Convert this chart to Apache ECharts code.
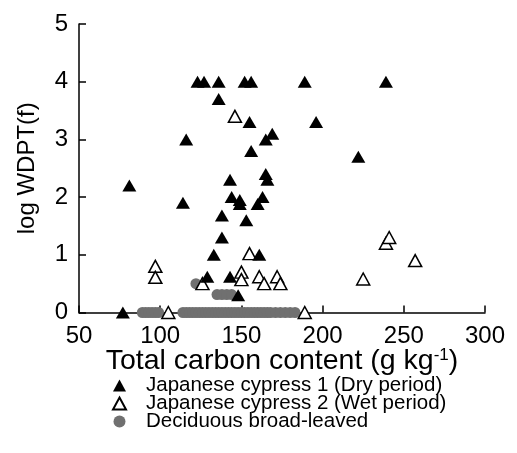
<!DOCTYPE html>
<html>
<head>
<meta charset="utf-8">
<script src="https://cdn.jsdelivr.net/npm/echarts@6/dist/echarts.min.js"></script>
<style>html,body{margin:0;padding:0;background:#fff;}#c{width:517px;height:453px;}</style>
</head>
<body>
<div id="c"></div>
<script>
const xTicks = [50, 100, 150, 200, 250, 300];
const yTicks = [0, 1, 2, 3, 4, 5];
const seriesNames = ['Japanese cypress 1 (Dry period)', 'Japanese cypress 2 (Wet period)', 'Deciduous broad-leaved'];
const dryPeriod = [[77,0],[81,2.2],[114,1.9],[116,3.0],[123,4],[127,4],[136,4],[136,3.7],[152,4],[156,4],[189,4],[239,4],
  [155,3.3],[196,3.3],[169,3.1],[165,3.0],[156,2.8],[222,2.7],[143,2.3],[165,2.4],[166,2.3],[144,2.0],[149,1.95],[163,2.0],
  [149,1.88],[160,1.88],[138,1.68],[153,1.6],[138,1.3],[133,1.0],[161,1.0],[129,0.62],[143,0.62],[148,0.3]];
const wetPeriod = [[97,0.8],[97,0.61],[105,0],[126,0.5],[146,3.4],[150,0.7],[150,0.57],[155,1.02],[161,0.62],[164,0.5],
  [172,0.62],[174,0.5],[189,0],[225,0.58],[239,1.2],[241,1.3],[257,0.9]];
const deciduous = [[122,0.5],[135,0.31],[138,0.31],[141,0.31],[144,0.31],
  [89,0],[91,0],[93,0],[95,0],[97,0],[99,0],
  [114,0],[116,0],[118,0],[120,0],[122,0],[124,0],[126,0],[128,0],[130,0],[132,0],[134,0],[136,0],[138,0],[140,0],
  [142,0],[144,0],[146,0],[148,0],[150,0],[152,0],[154,0],[156,0],[158,0],[160,0],[162,0],[164,0],[166,0],[168,0],
  [171,0],[174,0],[177,0],[180,0],[183,0]];

const FONT = 'Liberation Sans, Arial, sans-serif';
const chart = echarts.init(document.getElementById('c'), null, {renderer: 'canvas'});
chart.setOption({
  animation: false,
  backgroundColor: '#fff',
  grid: {left: 79, right: 32, top: 24, bottom: 140.5, containLabel: false},
  xAxis: {
    type: 'value', min: xTicks[0], max: xTicks[xTicks.length - 1], interval: 50,
    name: 'Total carbon content (g kg{sup|-1})', nameLocation: 'middle', nameGap: 34, nameMoveOverlap: false,
    nameTextStyle: {color: '#000', fontSize: 28.5, fontFamily: FONT,
      rich: {sup: {fontSize: 17, fontFamily: FONT, color: '#000', verticalAlign: 'top', padding: [0, 0, 10, 0]}}},
    axisLine: {show: true, lineStyle: {color: '#000', width: 1.5}},
    axisTick: {show: true, inside: true, length: 7, lineStyle: {color: '#000', width: 1.5}},
    axisLabel: {color: '#000', fontSize: 24, fontFamily: FONT, margin: 12},
    splitLine: {show: false}
  },
  yAxis: {
    type: 'value', min: yTicks[0], max: yTicks[yTicks.length - 1], interval: 1,
    name: 'log WDPT(f)', nameLocation: 'middle', nameGap: 40, nameMoveOverlap: false,
    nameTextStyle: {color: '#000', fontSize: 24, fontFamily: FONT},
    axisLine: {show: true, lineStyle: {color: '#000', width: 1.5}},
    axisTick: {show: true, inside: true, length: 7, lineStyle: {color: '#000', width: 1.5}},
    axisLabel: {color: '#000', fontSize: 24, fontFamily: FONT, margin: 11},
    splitLine: {show: false}
  },
  legend: {
    orient: 'vertical', left: 112, top: 375, itemGap: -3, itemWidth: 13, itemHeight: 12,
    padding: 0,
    textStyle: {color: '#000', fontSize: 20.5, fontFamily: FONT, lineHeight: 18, padding: [0, 0, 0, 15]},
    data: seriesNames
  },
  series: [
    {name: seriesNames[2], type: 'scatter', data: deciduous, clip: false, z: 2, symbol: 'circle', symbolSize: 11,
     itemStyle: {color: '#707070', opacity: 1}},
    {name: seriesNames[1], type: 'scatter', data: wetPeriod, clip: false, z: 3, symbol: 'triangle', symbolSize: [13, 12],
     itemStyle: {color: '#fff', borderColor: '#000', borderWidth: 1.5, opacity: 1}},
    {name: seriesNames[0], type: 'scatter', data: dryPeriod, clip: false, z: 4, symbol: 'triangle', symbolSize: [14, 12],
     itemStyle: {color: '#000', opacity: 1}}
  ]
});
</script>
</body>
</html>
